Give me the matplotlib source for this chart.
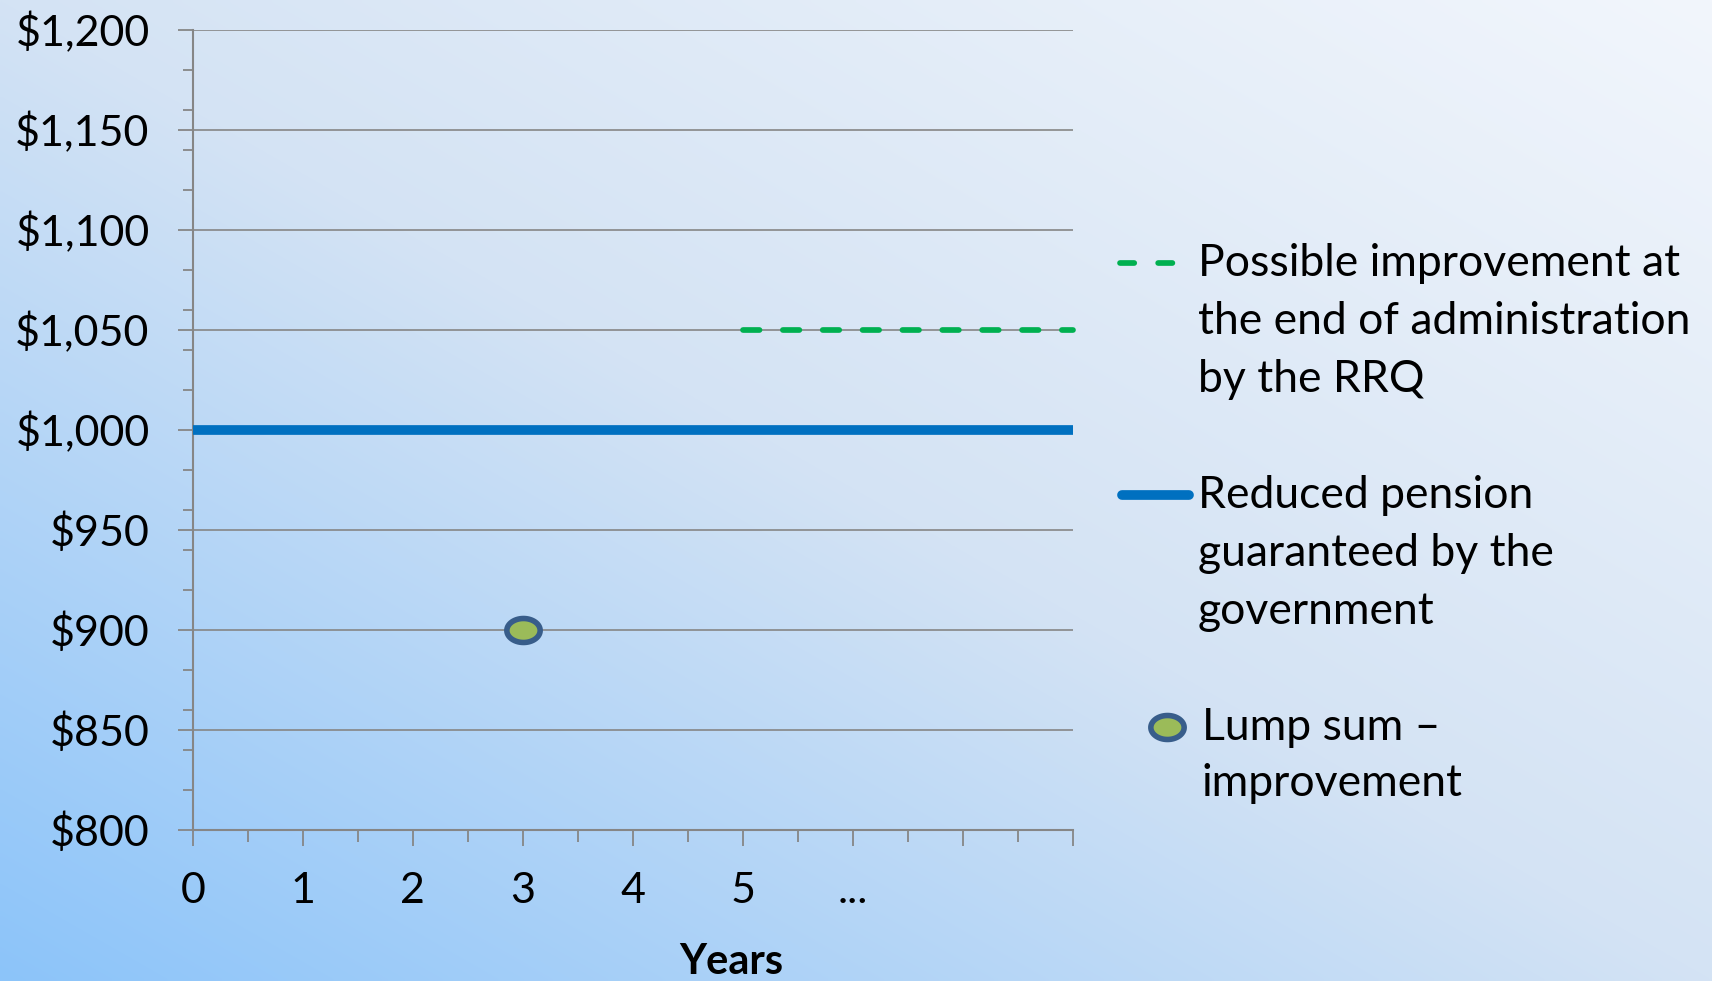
import numpy as np
import matplotlib
matplotlib.use('Agg')
import matplotlib.pyplot as plt
from matplotlib.lines import Line2D
from matplotlib.path import Path
from matplotlib.ticker import MultipleLocator

plt.rcParams['font.family'] = ['Lato', 'DejaVu Sans']

# chart values
year_ticks = [0, 1, 2, 3, 4, 5, 6, 7, 8]
year_labels = ['0', '1', '2', '3', '4', '5', '...', '', '']
amount_ticks = [800, 850, 900, 950, 1000, 1050, 1100, 1150, 1200]
amount_labels = ['$800', '$850', '$900', '$950', '$1,000', '$1,050', '$1,100', '$1,150', '$1,200']

pension_years = [0, 8]
pension_amount = [1000, 1000]
improve_years = [5, 8]
improve_amount = [1050, 1050]
lump_year = [3]
lump_amount = [900]

legend_labels = [
    ['Possible improvement at', 'the end of administration', 'by the RRQ'],
    ['Reduced pension', 'guaranteed by the', 'government'],
    ['Lump sum \u2013', 'improvement'],
]

GRID = '#868686'
BLUE = '#0070C0'
GREEN = '#00B050'
W, H = 1712, 981

fig = plt.figure(figsize=(W / 100, H / 100), dpi=100)

# diagonal background wash: blue at bottom-left, near white at top-right
bg = fig.add_axes([0, 0, 1, 1], zorder=-10)
gx, gy = np.meshgrid(np.linspace(0, 1, 400), np.linspace(1, 0, 240))
t = 0.5 * gx + 0.5 * gy
stops = [0.0, 0.5, 1.0]
cols = np.array([[140, 196, 250], [212, 227, 244], [242, 246, 252]]) / 255.0
img = np.stack([np.interp(t, stops, cols[:, k]) for k in range(3)], axis=-1)
bg.imshow(img, aspect='auto', extent=[0, 1, 0, 1], interpolation='bilinear')
bg.axis('off')

ax = fig.add_axes([192.7 / W, 1 - 829.5 / H, 880 / W, 800 / H])
ax.set_facecolor('none')
ax.set_xlim(0, 8)
ax.set_ylim(800, 1200)

ax.plot(pension_years, pension_amount, color=BLUE, lw=7, solid_capstyle='butt', zorder=3, clip_on=False)
ax.plot(improve_years, improve_amount, color=GREEN, lw=4.1, dashes=(2.9, 4.1),
        dash_capstyle='round', zorder=3, clip_on=False)

ell = np.linspace(0, 2 * np.pi, 60)
ellipse = Path(np.column_stack([np.cos(ell), 0.72 * np.sin(ell)]), closed=True)
ax.plot(lump_year, lump_amount, ls='none', marker=ellipse, ms=24,
        mfc='#9BBB59', mec='#385D8A', mew=4, zorder=4, clip_on=False)

ax.set_yticks(amount_ticks)
ax.set_yticklabels(amount_labels)
ax.yaxis.set_minor_locator(MultipleLocator(20))
ax.set_xticks(year_ticks)
ax.set_xticklabels(year_labels)
ax.xaxis.set_minor_locator(MultipleLocator(0.5))

ax.grid(axis='y', which='major', color=GRID, lw=1.2, zorder=1)
for s in ['top', 'right']:
    ax.spines[s].set_visible(False)
for s in ['left', 'bottom']:
    ax.spines[s].set_color(GRID)
    ax.spines[s].set_linewidth(1.5)

ax.tick_params(axis='both', which='both', color=GRID, width=1.3, direction='out')
ax.tick_params(axis='y', which='major', length=11, pad=20, labelsize=31)
ax.tick_params(axis='y', which='minor', length=7)
ax.tick_params(axis='x', which='major', length=11.5, pad=19, labelsize=31)
ax.tick_params(axis='x', which='minor', length=8.5)

ax.text((731 - 192.7) / 880, (829.5 - 962) / 800, 'Years',
        transform=ax.transAxes, ha='center', va='center', fontsize=30, fontweight='bold')

# legend drawn by hand on the figure
def fx(px):
    return px / W

def fy(py):
    return 1 - py / H

fig.add_artist(Line2D([fx(1120), fx(1178)], [fy(263), fy(263)], color=GREEN, lw=4.1,
                      dashes=(2.5, 4.2), dash_capstyle='round'))
fig.add_artist(Line2D([fx(1122), fx(1189)], [fy(495), fy(495)], color=BLUE, lw=7,
                      solid_capstyle='round'))
fig.add_artist(Line2D([fx(1167)], [fy(727)], ls='none', marker=ellipse, ms=24,
                      mfc='#9BBB59', mec='#385D8A', mew=4))

line_y = [[263, 322, 380], [495, 553, 611], [727, 784]]
text_x = [1198, 1198, 1202]
for lines, ys, x0 in zip(legend_labels, line_y, text_x):
    for txt, yy in zip(lines, ys):
        fig.text(fx(x0), fy(yy), txt, ha='left', va='center', fontsize=32)

fig.savefig('out.png', dpi=100)
